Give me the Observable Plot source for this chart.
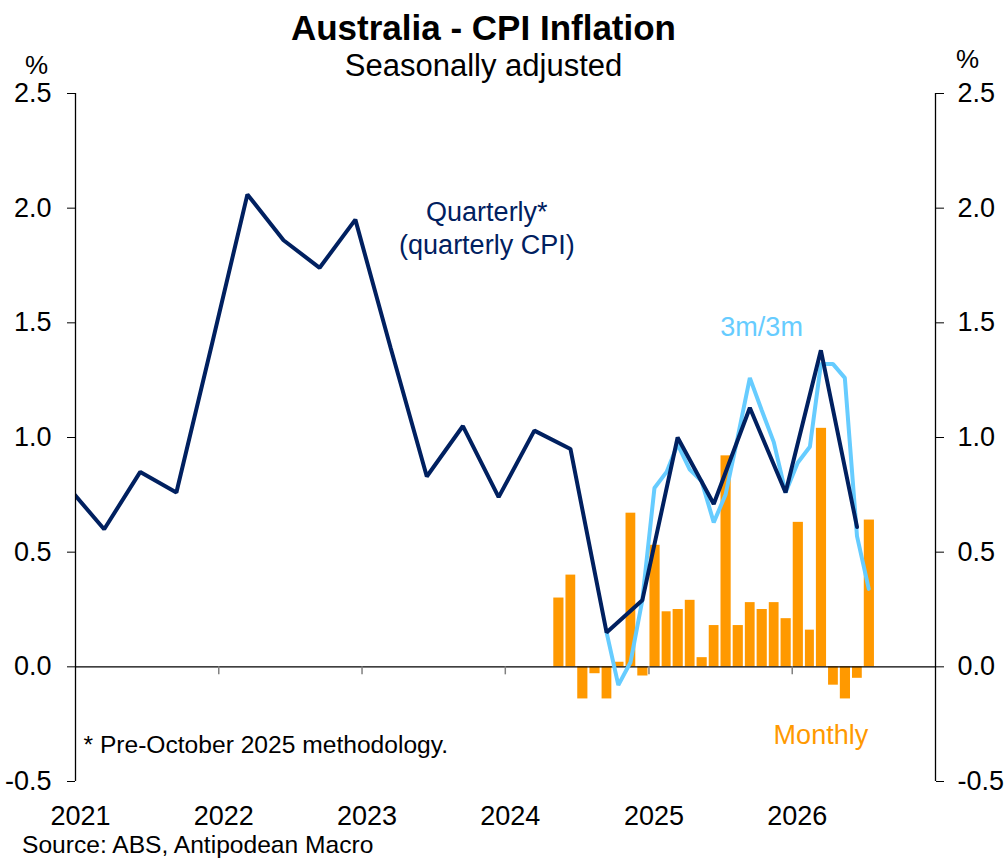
<!DOCTYPE html>
<html><head><meta charset="utf-8">
<script src="https://cdn.jsdelivr.net/npm/d3@7"></script>
<script src="https://cdn.jsdelivr.net/npm/@observablehq/plot@0.6"></script>
<style>
body{margin:0;background:#fff;font-family:"Liberation Sans",Arial,sans-serif;color:#000;}
#page{width:1006px;height:867px;overflow:hidden;}
#header{position:relative;height:78px;}
#footer{position:relative;height:37px;}
.t{position:absolute;white-space:nowrap;line-height:1;}
</style></head><body>
<div id="page">
  <div id="header">
    <div class="t" style="left:0;width:967px;text-align:center;top:10px;font-size:35px;font-weight:bold;">Australia - CPI Inflation</div>
    <div class="t" style="left:0;width:967px;text-align:center;top:50px;font-size:31px;">Seasonally adjusted</div>
    <div class="t" style="left:25px;top:52px;font-size:26px;">%</div>
    <div class="t" style="left:956px;top:46px;font-size:26px;">%</div>
  </div>
  <div id="chart"></div>
  <div id="footer">
    <div class="t" style="left:22px;top:3px;font-size:24.6px;">Source: ABS, Antipodean Macro</div>
  </div>
</div>
<script>
// ---- data ----
const quarterMonths = ["2020-12","2021-03","2021-06","2021-09","2021-12","2022-03","2022-06","2022-09","2022-12",
  "2023-03","2023-06","2023-09","2023-12","2024-03","2024-06","2024-09","2024-12","2025-03","2025-06","2025-09",
  "2025-12","2026-03","2026-06"];
const quarterlyValues = [0.78,0.60,0.85,0.76,1.41,2.06,1.86,1.74,1.95,1.39,0.83,1.05,0.74,1.03,0.95,0.15,0.29,1.00,0.71,1.13,0.76,1.38,0.61];

const monthlyMonths = ["2024-05","2024-06","2024-07","2024-08","2024-09","2024-10","2024-11","2024-12",
  "2025-01","2025-02","2025-03","2025-04","2025-05","2025-06","2025-07","2025-08","2025-09","2025-10","2025-11","2025-12",
  "2026-01","2026-02","2026-03","2026-04","2026-05","2026-06","2026-07"];
const monthlyValues = [0.30,0.40,-0.14,-0.03,-0.14,0.02,0.67,-0.04,0.53,0.24,0.25,0.29,0.04,0.18,0.92,0.18,0.28,0.25,0.28,0.21,0.63,0.16,1.04,-0.08,-0.14,-0.05,0.64];

const threeMonthMonths = ["2024-09","2024-10","2024-11","2024-12",
  "2025-01","2025-02","2025-03","2025-04","2025-05","2025-06","2025-07","2025-08","2025-09","2025-10","2025-11","2025-12",
  "2026-01","2026-02","2026-03","2026-04","2026-05","2026-06","2026-07"];
const threeMonthValues = [0.15,-0.08,0.02,0.29,0.78,0.85,0.97,0.86,0.81,0.63,0.75,1.00,1.26,1.12,0.98,0.76,0.89,0.96,1.32,1.32,1.26,0.57,0.34];

const yearTicks = [2021,2022,2023,2024,2025,2026];
const yTicks = [-0.5,0,0.5,1,1.5,2,2.5];
const xDomainYears = [2021,2027];
const yDomain = [-0.5,2.5];

const labels = [
  {text:"Quarterly*\n(quarterly CPI)", month:"2023-11", value:1.92, color:"#002060"},
  {text:"3m/3m", month:"2025-10", value:1.49, color:"#66CCFF"},
  {text:"Monthly", month:"2026-03", value:-0.29, color:"#FF9900"}
];
const footnote = "* Pre-October 2025 methodology.";

// ---- helpers ----
const NAVY = "#002060", LIGHT = "#66CCFF", ORANGE = "#FF9900";
const monthStart = s => { const [y,m] = s.split("-").map(Number); return new Date(Date.UTC(y, m-1, 1)); };
const monthMid = s => { const [y,m] = s.split("-").map(Number); return new Date(Date.UTC(y, m-1, 15)); };
const yearDate = y => new Date(Date.UTC(y, 0, 1));

const quarterly = quarterMonths.map((m,i) => ({date: monthMid(m), value: quarterlyValues[i]}));
const monthly = monthlyMonths.map((m,i) => ({start: monthStart(m), end: d3.utcMonth.offset(monthStart(m), 1), value: monthlyValues[i]}));
const threeM = threeMonthMonths.map((m,i) => ({date: monthMid(m), value: threeMonthValues[i]}));
const years = yearTicks.map(yearDate);
const innerYears = years.slice(1);
const xDomain = xDomainYears.map(yearDate);
const labelData = labels.map(d => ({...d, date: monthMid(d.month)}));

const chart = Plot.plot({
  width: 1006,
  height: 752,
  marginTop: 15,
  marginBottom: 49,
  marginLeft: 75,
  marginRight: 71,
  style: {fontFamily: "'Liberation Sans', Arial, sans-serif", fontSize: "27px", color: "#000", background: "#fff"},
  x: {type: "utc", domain: xDomain},
  y: {domain: yDomain},
  marks: [
    Plot.rectY(monthly, {x1: "start", x2: "end", y1: 0, y2: "value", fill: ORANGE, insetLeft: 1, insetRight: 1}),
    Plot.ruleY([0], {stroke: "#000", strokeWidth: 1.3}),
    Plot.ruleX(innerYears, {y1: 0, y2: 0, insetBottom: -8, stroke: "#808080", strokeWidth: 1.5}),
    Plot.line(threeM, {x: "date", y: "value", stroke: LIGHT, strokeWidth: 4, strokeLinejoin: "miter"}),
    Plot.line(quarterly, {x: "date", y: "value", stroke: NAVY, strokeWidth: 4, strokeLinejoin: "miter", clip: true}),
    Plot.ruleX(xDomain, {y1: yDomain[0], y2: yDomain[1], stroke: "#000", strokeWidth: 1.3}),
    Plot.axisY(yTicks, {anchor: "left", tickSize: 8, tickPadding: 16, tickFormat: d => d.toFixed(1), label: null, fontSize: 27}),
    Plot.axisY(yTicks, {anchor: "right", tickSize: 8, tickPadding: 14, tickFormat: d => d.toFixed(1), label: null, fontSize: 27}),
    Plot.axisX(years, {anchor: "bottom", tickSize: 0, tickPadding: 24, tickFormat: d3.utcFormat("%Y"), label: null, fontSize: 27, dx: 5}),
    Plot.text(labelData, {x: "date", y: "value", text: "text", fill: "color", fontSize: 27, lineHeight: 1.22, textAnchor: "middle"}),
    Plot.text([footnote], {frameAnchor: "bottom-left", text: d => d, dx: 8, dy: -29, textAnchor: "start", fontSize: 24.6, fill: "#000"})
  ]
});
document.getElementById("chart").appendChild(chart);
</script>
</body></html>
